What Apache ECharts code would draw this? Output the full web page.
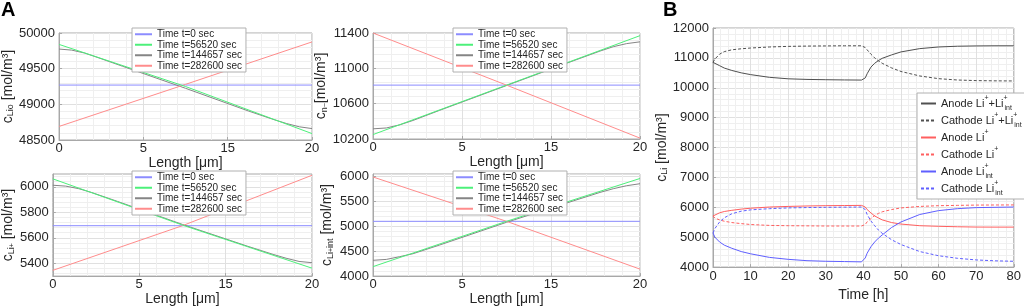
<!DOCTYPE html>
<html>
<head>
<meta charset="utf-8">
<script src="https://cdn.jsdelivr.net/npm/echarts@6/dist/echarts.min.js"></script>
<style>
  html, body { margin: 0; padding: 0; background: #fff; }
  #main { width: 1024px; height: 307px; }
</style>
</head>
<body>
<div id="main"></div>
<script>
// ---- panel A data (x = length in um) ----
const lengthLin = [0, 10, 20];
const lengthCurve = [0, 1, 2, 3, 5, 10, 15, 17, 18, 19, 20];
const lengthTicks = ['0', '5', '15', '20'];
const timeNames = ['Time t=0 sec', 'Time t=56520 sec', 'Time t=144657 sec', 'Time t=282600 sec'];

// c_Lio
const lio_t0 = [49270, 49270, 49270];
const lio_t1 = [49840, 49250, 48590];
const lio_t2 = [49775, 49760, 49720, 49660, 49535, 49225, 48905, 48785, 48730, 48685, 48660];
const lio_t3 = [48690, 49280, 49875];
// c_n-
const n_t0 = [10810, 10810, 10810];
const n_t1 = [10250, 10810, 11370];
const n_t2 = [10315, 10325, 10360, 10410, 10525, 10805, 11085, 11195, 11245, 11280, 11300];
const n_t3 = [11400, 10810, 10210];
// c_Li+
const li_t0 = [5695, 5695, 5695];
const li_t1 = [6062, 5700, 5362];
const li_t2 = [6012, 6005, 5985, 5955, 5885, 5705, 5535, 5470, 5440, 5415, 5405];
const li_t3 = [5345, 5695, 6090];
// c_Li+int
const lint_t0 = [5100, 5100, 5100];
const lint_t1 = [4190, 5100, 5960];
const lint_t2 = [4317, 4335, 4390, 4450, 4625, 5080, 5510, 5680, 5755, 5815, 5855];
const lint_t3 = [5990, 5100, 4140];

// ---- panel B data (x = time in h) ----
const timeH = [0, 0.5, 1.75, 3, 5, 7.5, 10, 15, 20, 25, 30, 35, 39.5, 40, 40.5, 41, 42, 43, 44, 45, 47.5, 50, 55, 60, 65, 70, 75, 80];
const anodeTotal = [10850, 10800, 10740, 10660, 10580, 10500, 10440, 10350, 10300, 10280, 10270, 10262, 10258, 10258, 10330, 10470, 10690, 10820, 10910, 10985, 11100, 11200, 11310, 11365, 11390, 11400, 11405, 11405];
const cathodeTotal = [10850, 10960, 11125, 11210, 11270, 11305, 11330, 11365, 11385, 11395, 11400, 11405, 11405, 11405, 11345, 11270, 11125, 11000, 10900, 10820, 10665, 10545, 10395, 10305, 10260, 10240, 10232, 10228];
const anodeLi = [5710, 5770, 5816, 5860, 5900, 5940, 5970, 6010, 6030, 6045, 6055, 6060, 6065, 6065, 6010, 5925, 5815, 5710, 5645, 5580, 5490, 5440, 5385, 5365, 5350, 5340, 5338, 5338];
const cathodeLi = [5710, 5640, 5580, 5535, 5490, 5455, 5425, 5395, 5385, 5380, 5375, 5375, 5375, 5375, 5425, 5515, 5620, 5730, 5795, 5850, 5925, 5980, 6030, 6055, 6065, 6075, 6078, 6080];
const anodeLint = [5140, 5000, 4840, 4735, 4630, 4520, 4445, 4325, 4260, 4215, 4195, 4185, 4175, 4175, 4305, 4465, 4680, 4840, 4970, 5075, 5325, 5510, 5760, 5890, 5955, 5990, 6000, 6010];
const cathodeLint = [5140, 5290, 5510, 5650, 5785, 5870, 5915, 5955, 5980, 5992, 6000, 6005, 6010, 6010, 5925, 5760, 5545, 5385, 5240, 5130, 4915, 4755, 4520, 4380, 4295, 4240, 4210, 4195];
const bNames = ['Anode Li+ +Li+int', 'Cathode Li+ +Li+int', 'Anode Li+', 'Cathode Li+', 'Anode Li+int', 'Cathode Li+int'];
const bLegendText = {
  'Anode Li+ +Li+int': 'Anode Li{p|+}+Li{q|+}{s|int}',
  'Cathode Li+ +Li+int': 'Cathode Li{p|+}+Li{q|+}{s|int}',
  'Anode Li+': 'Anode Li{p|+}',
  'Cathode Li+': 'Cathode Li{p|+}',
  'Anode Li+int': 'Anode Li{q|+}{s|int}',
  'Cathode Li+int': 'Cathode Li{q|+}{s|int}'
};

const pairs = (xs, ys) => xs.map((x, i) => [x, ys[i]]);

const FONT = 'Liberation Sans';
const TXT = '#262626';
const AX = '#a8a8a8';
const GRID = '#e0e0e0';
const MINOR = '#efefef';
const colA = ['#8c8cff', '#4cf07a', '#858585', '#ff8c8c'];
const plain = v => String(v);

const nameRich = {
  c: { fontSize: 14, fontFamily: FONT, color: TXT },
  s: { fontSize: 9, fontFamily: FONT, color: TXT, verticalAlign: 'bottom', lineHeight: 9 },
  p: { fontSize: 7, fontFamily: FONT, color: TXT, verticalAlign: 'bottom', lineHeight: 16 }
};

const grids = [
  { left: 51, top: 33, width: 261, height: 107 },
  { left: 373, top: 33, width: 267, height: 106 },
  { left: 51, top: 174, width: 261, height: 109 },
  { left: 373, top: 174, width: 267, height: 108 },
  { left: 713, top: 28, width: 304, height: 245 }
].map(g => Object.assign({ show: true, borderColor: AX, borderWidth: 1, backgroundColor: '#fff' }, g));

function xAxisA(i) {
  return {
    type: 'value', gridIndex: i, min: 0, max: 20, interval: 20 / 3,
    name: 'Length [\u03bcm]', nameLocation: 'middle', nameGap: 15,
    nameTextStyle: { fontSize: 14, fontFamily: FONT, color: TXT },
    axisLine: { lineStyle: { color: AX } },
    axisTick: { inside: true, length: 3, lineStyle: { color: AX } },
    axisLabel: {
      margin: 2, fontSize: 13, fontFamily: FONT, color: TXT,
      formatter: v => lengthTicks[Math.round(v * 3 / 20)]
    },
    splitLine: { show: true, lineStyle: { color: GRID } },
    minorTick: { show: false, splitNumber: 5 },
    minorSplitLine: { show: true, lineStyle: { color: MINOR } }
  };
}

function yAxis(i, cfg, name, gap) {
  return Object.assign({
    type: 'value', gridIndex: i,
    name: name, nameLocation: 'middle', nameGap: gap, nameRotate: 90,
    nameTextStyle: { fontSize: 14, fontFamily: FONT, color: TXT, rich: nameRich },
    axisLine: { show: true, lineStyle: { color: AX } },
    axisTick: { show: true, inside: true, length: 3, lineStyle: { color: AX } },
    axisLabel: { margin: 4, fontSize: 13, fontFamily: FONT, color: TXT, formatter: plain },
    splitLine: { show: true, lineStyle: { color: GRID } },
    minorTick: { show: false, splitNumber: 5 },
    minorSplitLine: { show: true, lineStyle: { color: MINOR } }
  }, cfg);
}

const yAxes = [
  yAxis(0, { min: 48500, max: 50000, interval: 500 }, '{c|c}{s|Lio} [mol/m\u00b3]', 40),
  yAxis(1, { min: 10200, max: 11400, interval: 400 }, '{c|c}{s|n}{p|\u2212}[mol/m\u00b3]', 38),
  yAxis(2, {
    min: 5300, max: 6100,
    axisLabel: { margin: 4, fontSize: 13, fontFamily: FONT, color: TXT, formatter: plain, customValues: [5400, 5600, 5800, 6000] },
    axisTick: { show: true, inside: true, length: 3, lineStyle: { color: AX }, customValues: [5400, 5600, 5800, 6000] }
  }, '{c|c}{s|Li}{p|+} [mol/m\u00b3]', 33),
  yAxis(3, { min: 4000, max: 6050, interval: 500,
    axisLabel: { margin: 4, fontSize: 13, fontFamily: FONT, color: TXT, formatter: plain, showMaxLabel: false } },
    '{c|c}{s|Li}{p|+}{s|int} [mol/m\u00b3]', 38),
  yAxis(4, { min: 4000, max: 12000, interval: 1000 }, '{c|c}{s|Li} [mol/m\u00b3]', 41)
];

const xAxes = [0, 1, 2, 3].map(xAxisA);
xAxes.push({
  type: 'value', gridIndex: 4, min: 0, max: 80, interval: 10,
  name: 'Time [h]', nameLocation: 'middle', nameGap: 17,
  nameTextStyle: { fontSize: 14, fontFamily: FONT, color: TXT },
  axisLine: { lineStyle: { color: AX } },
  axisTick: { inside: true, length: 3, lineStyle: { color: AX } },
  axisLabel: { margin: 3, fontSize: 13, fontFamily: FONT, color: TXT },
  splitLine: { show: true, lineStyle: { color: GRID } },
  minorTick: { show: false, splitNumber: 5 },
  minorSplitLine: { show: true, lineStyle: { color: MINOR } }
});

function lineA(i, k, xs, ys) {
  return {
    name: timeNames[k], type: 'line', xAxisIndex: i, yAxisIndex: i,
    data: pairs(xs, ys), symbol: 'none', color: colA[k],
    lineStyle: { width: 1, color: colA[k] }, z: 2 + (k === 1 ? 1 : 0)
  };
}

const panelData = [
  [lio_t0, lio_t1, lio_t2, lio_t3],
  [n_t0, n_t1, n_t2, n_t3],
  [li_t0, li_t1, li_t2, li_t3],
  [lint_t0, lint_t1, lint_t2, lint_t3]
];

const series = [];
panelData.forEach((sets, i) => {
  sets.forEach((ys, k) => {
    series.push(lineA(i, k, k === 2 ? lengthCurve : lengthLin, ys));
  });
});

const bSets = [anodeTotal, cathodeTotal, anodeLi, cathodeLi, anodeLint, cathodeLint];
const bColors = ['#505050', '#505050', '#ff5f5f', '#ff5f5f', '#5f5fff', '#5f5fff'];
bSets.forEach((ys, k) => {
  series.push({
    name: bNames[k], type: 'line', xAxisIndex: 4, yAxisIndex: 4,
    data: pairs(timeH, ys), symbol: 'none', color: bColors[k],
    lineStyle: { width: 1, color: bColors[k], type: k % 2 ? [3, 2] : 'solid' }
  });
});

const hiddenMark = { color: 'rgba(0,0,0,0)', borderWidth: 0, opacity: 0 };

function legendA(left, top) {
  return {
    left: left, top: top, orient: 'vertical', data: timeNames,
    itemWidth: 17, itemHeight: 10, itemGap: 0,
    itemStyle: hiddenMark,
    padding: [1, 4, 1, 2],
    borderColor: '#b0b0b0', borderWidth: 1, backgroundColor: '#fff',
    textStyle: { fontSize: 10, fontFamily: FONT, color: TXT, lineHeight: 10.5 },
    selectedMode: false, z: 10
  };
}

const legendB = {
  left: 917, top: 93, orient: 'vertical', data: bNames,
  itemWidth: 15, itemHeight: 17, itemGap: 0,
  itemStyle: hiddenMark,
  padding: [2, 7, 2, 3],
  borderColor: '#b0b0b0', borderWidth: 1, backgroundColor: '#fff',
  formatter: n => bLegendText[n],
  textStyle: {
    fontSize: 11, fontFamily: FONT, color: TXT, lineHeight: 17,
    rich: {
      p: { fontSize: 7, fontFamily: FONT, color: TXT, verticalAlign: 'top', lineHeight: 8 },
      q: { fontSize: 7, fontFamily: FONT, color: TXT, verticalAlign: 'top', lineHeight: 8, width: 1 },
      s: { fontSize: 7, fontFamily: FONT, color: TXT, verticalAlign: 'bottom', lineHeight: 8 }
    }
  },
  selectedMode: false, z: 10
};

var myChart = echarts.init(document.getElementById('main'), null, { width: 1024, height: 307 });

let option = {
  animation: false,
  backgroundColor: '#fff',
  grid: grids,
  xAxis: xAxes,
  yAxis: yAxes,
  legend: [legendA(132, 28), legendA(453, 28), legendA(132, 171), legendA(453, 171), legendB],
  graphic: [
    { type: 'text', left: 1, top: 0, style: { text: 'A', fontSize: 20, fontWeight: 'bold', fontFamily: FONT, fill: '#000' } },
    { type: 'text', left: 663, top: 0, style: { text: 'B', fontSize: 20, fontWeight: 'bold', fontFamily: FONT, fill: '#000' } }
  ],
  series: series
};

myChart.setOption(option);
</script>
</body>
</html>
